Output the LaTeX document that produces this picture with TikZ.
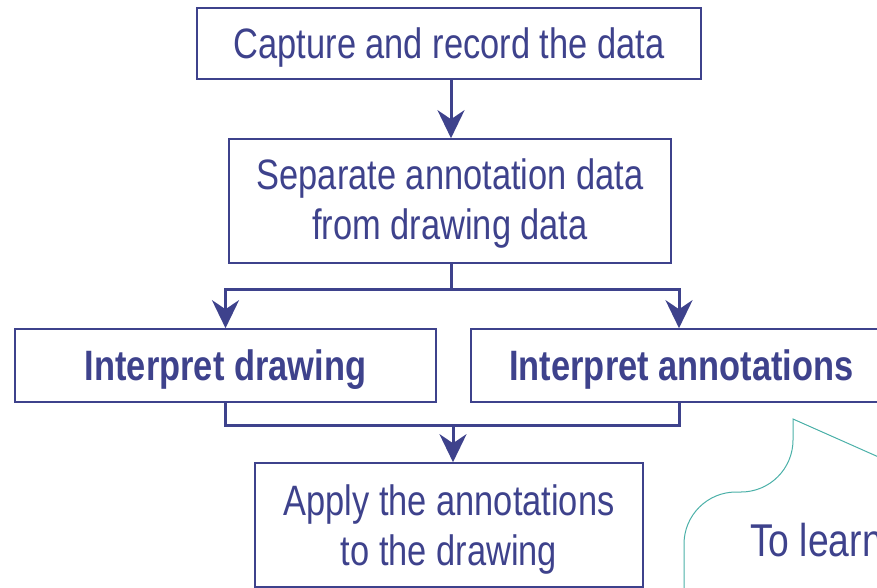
\documentclass[tikz,border=0pt]{standalone}
\usepackage{fontspec}
\setmainfont[FakeStretch=0.81]{Liberation Sans}
\usetikzlibrary{arrows.meta}
\definecolor{navy}{HTML}{3E428C}
\definecolor{tealline}{HTML}{4BB0A8}
\begin{document}
\begin{tikzpicture}[x=1pt,y=-1pt,
  box/.style={draw=navy, line width=1.6pt, inner sep=0pt},
  lbl/.style={text=navy, font=\fontsize{42.5}{50}\selectfont, align=center, inner sep=0pt},
  boldlbl/.style={lbl, font=\fontsize{42.5}{50}\selectfont\bfseries},
  conn/.style={draw=navy, line width=3pt},
  arr/.style={conn, -{Stealth[length=28pt,width=27pt,inset=9pt]}}]
\useasboundingbox (0,0) rectangle (877,587);
\clip (0,0) rectangle (877,587);
\node[box, minimum width=504, minimum height=71] (b1) at (449,43.5) {};
\node[box, minimum width=442, minimum height=124] (b2) at (450,201) {};
\node[box, minimum width=421, minimum height=73] (b3) at (225.5,365.5) {};
\node[box, minimum width=421, minimum height=73] (b4) at (681.5,365.5) {};
\node[box, minimum width=388, minimum height=124] (b5) at (449,525) {};
\node[lbl] (t1) at ([yshift=-4pt]b1.center) {Capture and record the data};
\node[lbl] (t2) at ([yshift=-3pt]b2.center) {Separate annotation data\\from drawing data};
\node[boldlbl] (t3) at ([yshift=-4pt]b3.center) {Interpret drawing};
\node[boldlbl] (t4) at ([yshift=-4pt]b4.center) {Interpret annotations};
\node[lbl] (t5) at ([yshift=-4pt]b5.center) {Apply the annotations\\to the drawing};
\draw[arr] (b1.south -| 451,0) -- (b2.north -| 451,0);
\coordinate (split) at (451,289);
\draw[conn] (b2.south -| split) -- (split);
\draw[arr] (split) -| (b3.north);
\draw[arr] (split) -| ([xshift=-2.5pt]b4.north);
\coordinate (join) at (453,425);
\draw[conn] (b3.south) |- (join) -| ([xshift=-2.5pt]b4.south);
\draw[arr] (join) -- (b5.north -| join);
\draw[tealline, line width=1pt, rounded corners=52pt] (684,600) -- (684,492) -- (793,492) [sharp corners] -- (793,419) -- (900,466.5);
\node[anchor=base west, text=navy, font=\fontsize{46}{50}\selectfont, inner sep=0pt] (t) at (750,556) {To learn more};
\end{tikzpicture}
\end{document}
